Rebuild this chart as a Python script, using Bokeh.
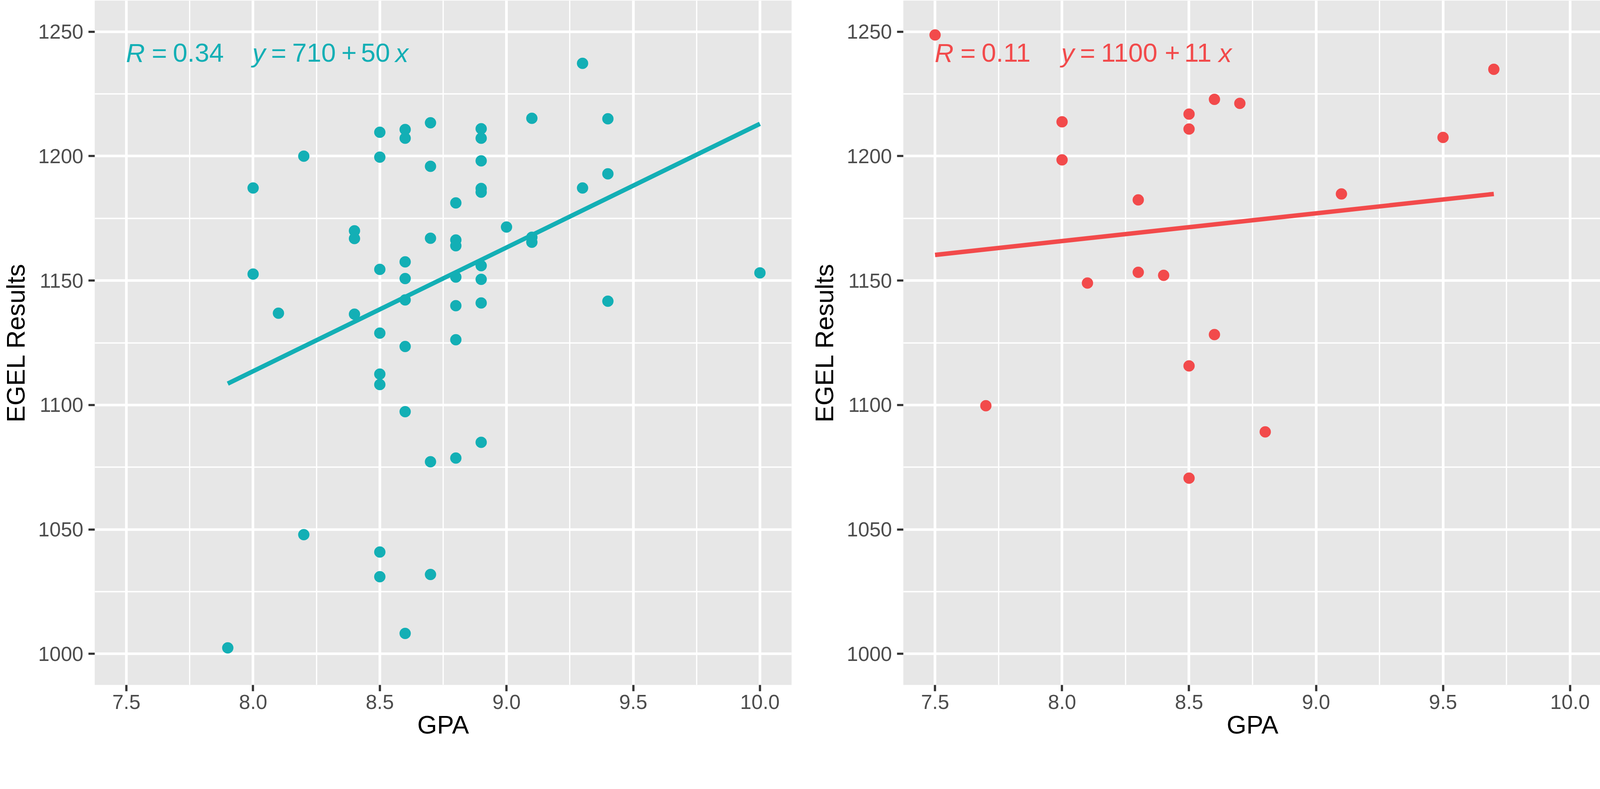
import numpy as np
from bokeh.plotting import figure
from bokeh.layouts import row
from bokeh.models import ColumnDataSource, Range1d, FixedTicker, NumeralTickFormatter
from bokeh.embed import file_html
from bokeh.resources import INLINE
from bokeh.core.properties import value, field

# ---------------- data ----------------
gpa_left = [7.9, 8.0, 8.0, 8.1, 8.2, 8.2, 8.4, 8.4, 8.4,
            8.5, 8.5, 8.5, 8.5, 8.5, 8.5, 8.5, 8.5,
            8.6, 8.6, 8.6, 8.6, 8.6, 8.6, 8.6, 8.6,
            8.7, 8.7, 8.7, 8.7, 8.7,
            8.8, 8.8, 8.8, 8.8, 8.8, 8.8, 8.8,
            8.9, 8.9, 8.9, 8.9, 8.9, 8.9, 8.9, 8.9, 8.9,
            9.0, 9.1, 9.1, 9.1, 9.3, 9.3, 9.4, 9.4, 9.4, 10.0]
egel_left = [1002.4, 1187.2, 1152.6, 1136.9, 1200.0, 1047.9, 1170.0, 1166.9, 1136.5,
             1209.6, 1199.6, 1154.5, 1128.9, 1112.4, 1108.2, 1040.9, 1031.0,
             1210.7, 1207.2, 1157.5, 1150.8, 1142.2, 1123.5, 1097.3, 1008.2,
             1213.4, 1195.9, 1167.0, 1077.2, 1031.9,
             1181.2, 1166.3, 1164.0, 1151.4, 1139.9, 1126.2, 1078.7,
             1211.0, 1207.2, 1198.1, 1187.0, 1185.5, 1156.0, 1150.5, 1141.0, 1085.0,
             1171.5, 1215.2, 1167.4, 1165.4, 1237.3, 1187.2, 1215.0, 1192.9, 1141.7, 1153.1]

gpa_right = [7.5, 7.7, 8.0, 8.0, 8.1, 8.3, 8.3, 8.4, 8.5, 8.5, 8.5, 8.5,
             8.6, 8.6, 8.7, 8.8, 9.1, 9.5, 9.7]
egel_right = [1248.7, 1099.7, 1213.8, 1198.5, 1149.0, 1182.4, 1153.3, 1152.1,
              1216.9, 1210.9, 1115.7, 1070.6, 1222.8, 1128.3, 1221.2, 1089.2,
              1184.8, 1207.5, 1234.9]

# fitted regression lines (end points)
fit_left_x = [7.9, 10.0]
fit_left_y = [1108.6, 1213.0]
fit_right_x = [7.5, 9.7]
fit_right_y = [1160.3, 1184.8]

r_labels = ["0.34", "0.11"]
intercept_labels = ["710", "1100"]
slope_labels = ["50", "11"]

x_ticks = [7.5, 8.0, 8.5, 9.0, 9.5, 10.0]
x_minor = [7.75, 8.25, 8.75, 9.25, 9.75]
y_ticks = [1000, 1050, 1100, 1150, 1200, 1250]
y_minor = [1025, 1075, 1125, 1175, 1225]

x_title = "GPA"
y_title = "EGEL Results"

TEAL = "#13AFB5"
RED = "#F24A4B"
PANEL = "#E7E7E7"
FONT = "Liberation Sans"


def make_panel(xs, ys, fx, fy, color, r_txt, b0_txt, b1_txt, width, left_border, right_border,
               plus_dx, b1_dx, x_dx):
    p = figure(width=width, height=1911, output_backend="svg", toolbar_location=None,
               x_range=Range1d(7.375, 10.125), y_range=Range1d(987.5, 1262.5),
               min_border_left=left_border, min_border_right=right_border,
               min_border_top=1, min_border_bottom=157)
    p.background_fill_color = PANEL
    p.border_fill_color = "white"
    p.outline_line_color = None

    p.xaxis.ticker = FixedTicker(ticks=x_ticks, minor_ticks=x_minor)
    p.yaxis.ticker = FixedTicker(ticks=y_ticks, minor_ticks=y_minor)
    p.xaxis.formatter = NumeralTickFormatter(format="0.0")

    for ax in (p.xaxis[0], p.yaxis[0]):
        ax.axis_line_color = None
        ax.major_tick_line_color = "#333333"
        ax.major_tick_line_width = 5.7
        ax.major_tick_out = 16
        ax.major_tick_in = 0
        ax.minor_tick_line_color = None
        ax.major_label_text_font = FONT
        ax.major_label_text_font_size = "52px"
        ax.major_label_text_color = "#4D4D4D"
        ax.axis_label_text_font = FONT
        ax.axis_label_text_font_size = "65px"
        ax.axis_label_text_font_style = "normal"
        ax.axis_label_text_color = "black"
    p.xaxis.major_label_standoff = 9
    p.xaxis.axis_label_standoff = 1
    p.yaxis.major_label_standoff = 13
    p.yaxis.axis_label_standoff = 18
    p.xaxis.axis_label = x_title
    p.yaxis.axis_label = y_title

    for g in (p.xgrid[0], p.ygrid[0]):
        g.grid_line_color = "white"
        g.grid_line_width = 6.7
        g.minor_grid_line_color = "white"
        g.minor_grid_line_width = 3.3

    p.scatter(xs, ys, size=29, fill_color=color, line_color=None)
    p.line(fx, fy, line_width=11.4, line_color=color)

    # annotation pieces: R = r    y = b0 + b1 x
    ax0, ax1, ay = 7.5, 8.0, 1241.5
    src = ColumnDataSource(dict(
        x=[ax0, ax0, ax0, ax1, ax1, ax1, ax1, ax1, ax1],
        y=[ay] * 9,
        text=["R", "=", r_txt, "y", "=", b0_txt, "+", b1_txt, "x"],
        dx=[-1, 65, 119, -2, 46, 100, plus_dx, b1_dx, x_dx],
        style=["italic", "normal", "normal", "italic", "normal", "normal", "normal", "normal", "italic"],
    ))
    p.text(x="x", y="y", text="text", x_offset="dx", source=src,
           text_font=value(FONT), text_font_size=value("67px"),
           text_font_style=field("style"), text_color=color,
           text_align="left", text_baseline="alphabetic")
    return p


p1 = make_panel(gpa_left, egel_left, fit_left_x, fit_left_y, TEAL,
                r_labels[0], intercept_labels[0], slope_labels[0],
                width=2052, left_border=236, right_border=26,
                plus_dx=226, b1_dx=276, x_dx=364)
p2 = make_panel(gpa_right, egel_right, fit_right_x, fit_right_y, RED,
                r_labels[1], intercept_labels[1], slope_labels[1],
                width=2048, left_border=260, right_border=0,
                plus_dx=263, b1_dx=313, x_dx=401)

layout = row(p1, p2)
open("out.html", "w").write(file_html(layout, INLINE))
